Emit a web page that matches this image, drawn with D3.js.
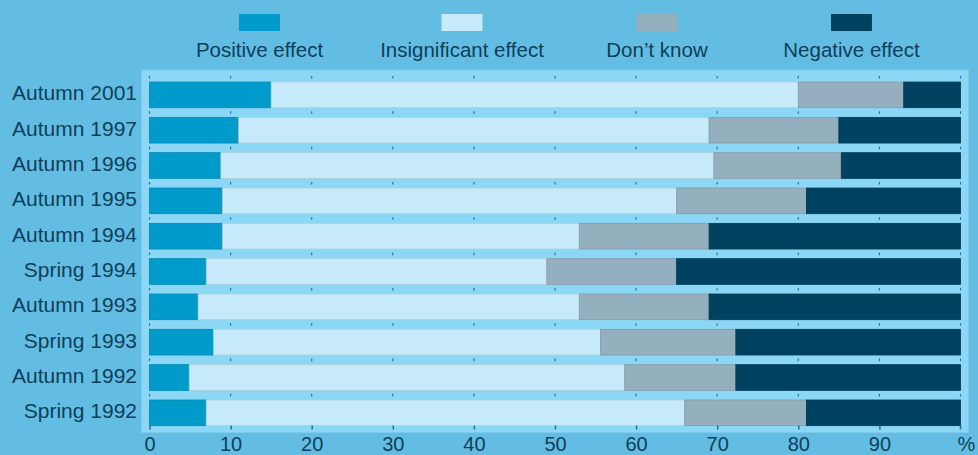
<!DOCTYPE html>
<html><head><meta charset="utf-8">
<script src="https://cdn.jsdelivr.net/npm/d3@7"></script>
<style>
html,body{margin:0;padding:0;background:#63bde2;}
svg{display:block;font-family:"Liberation Sans",Arial,sans-serif;}
</style></head>
<body><svg id="c" width="978" height="455"></svg>
<script>
const categories = ["Autumn 2001","Autumn 1997","Autumn 1996","Autumn 1995","Autumn 1994","Spring 1994","Autumn 1993","Spring 1993","Autumn 1992","Spring 1992"];
const seriesNames = ["Positive effect","Insignificant effect","Don\u2019t know","Negative effect"];
const positive      = [15, 11, 8.8, 9, 9, 7, 6, 7.9, 4.9, 7];
const insignificant = [65, 58, 60.8, 56, 44, 42, 47, 47.7, 53.7, 59];
const dontKnow      = [13, 16, 15.7, 16, 16, 16, 16, 16.7, 13.7, 15];
const negative      = [7, 15, 14.7, 19, 31, 35, 31, 27.7, 27.7, 19];
const tickValues = [0,10,20,30,40,50,60,70,80,90];
const colors = ["#009bcb","#c6eaf9","#94b0be","#00425f"];

const keys = ["pos","ins","dk","neg"];
const rows = categories.map((c,i)=>({cat:c,pos:positive[i],ins:insignificant[i],dk:dontKnow[i],neg:negative[i]}));
const svg = d3.select("#c");
const textColor = "#0d3f5c";

const x = d3.scaleLinear().domain([0,100]).range([149.5,960.5]);
const y = d3.scaleBand().domain(categories).range([77.2,430.5]).paddingInner(0.273).paddingOuter(0.1365);

// plot background
svg.append("rect").attr("x",141.5).attr("y",70).attr("width",827).attr("height",362.5)
  .attr("fill","#8bd7f5").attr("stroke","#7ccbed").attr("stroke-width",1);

// small tick marks in gaps
const gapG = svg.append("g");
const step = y.step();
const gapsY = [y(categories[0]) - (step - y.bandwidth())/2];
categories.slice(0,-1).forEach(c=>gapsY.push(y(c)+y.bandwidth()+(step-y.bandwidth())/2));
gapsY.forEach(gy=>{
  [0,10,20,30,40,50,60,70,80,90,100].forEach(v=>{
    gapG.append("line").attr("x1",x(v)).attr("x2",x(v))
      .attr("y1",gy-1.3).attr("y2",gy+1.3)
      .attr("stroke","#1f77a6").attr("stroke-width",1.2);
  });
});

// stacked bars
const stack = d3.stack().keys(keys)(rows);
stack.forEach((s,si)=>{
  svg.append("g").selectAll("rect").data(s).join("rect")
    .attr("x",d=>x(d[0])).attr("width",d=>x(d[1])-x(d[0]))
    .attr("y",d=>y(d.data.cat)).attr("height",y.bandwidth())
    .attr("fill",colors[si])
    .attr("stroke",d3.color(colors[si]).darker(0.35)).attr("stroke-width",0.8);
});

// bottom axis
const axis = d3.axisBottom(x).tickValues(tickValues).tickSize(4).tickFormat(d3.format("d"));
const ax = svg.append("g").attr("transform","translate(0,425.5)").call(axis);
ax.select(".domain").remove();
ax.selectAll(".tick line").attr("stroke","#1f6f9a").attr("stroke-width",1.5);
ax.selectAll(".tick text").attr("fill",textColor).attr("font-size",20)
  .attr("font-family","Liberation Sans, Arial, sans-serif").attr("y",25.5).attr("dy",0);
svg.append("line").attr("x1",x(100)).attr("x2",x(100)).attr("y1",425.5).attr("y2",429.5)
  .attr("stroke","#1f6f9a").attr("stroke-width",1.5);
svg.append("text").attr("x",x(100)+6).attr("y",451).attr("text-anchor","middle")
  .attr("fill",textColor).attr("font-size",20).text("%");

// y labels
svg.append("g").selectAll("text").data(categories).join("text")
  .attr("x",137).attr("y",d=>y(d)+y.bandwidth()/2+5.5)
  .attr("text-anchor","end").attr("fill",textColor).attr("font-size",21).text(d=>d);

// legend
const legX = [259.5,462,657,851.5];
const lg = svg.append("g");
seriesNames.forEach((n,i)=>{
  lg.append("rect").attr("x",legX[i]-20.5).attr("y",14).attr("width",41).attr("height",17).attr("fill",colors[i]);
  lg.append("text").attr("x",legX[i]).attr("y",57).attr("text-anchor","middle")
    .attr("fill",textColor).attr("font-size",20.5).text(n);
});
</script></body></html>
